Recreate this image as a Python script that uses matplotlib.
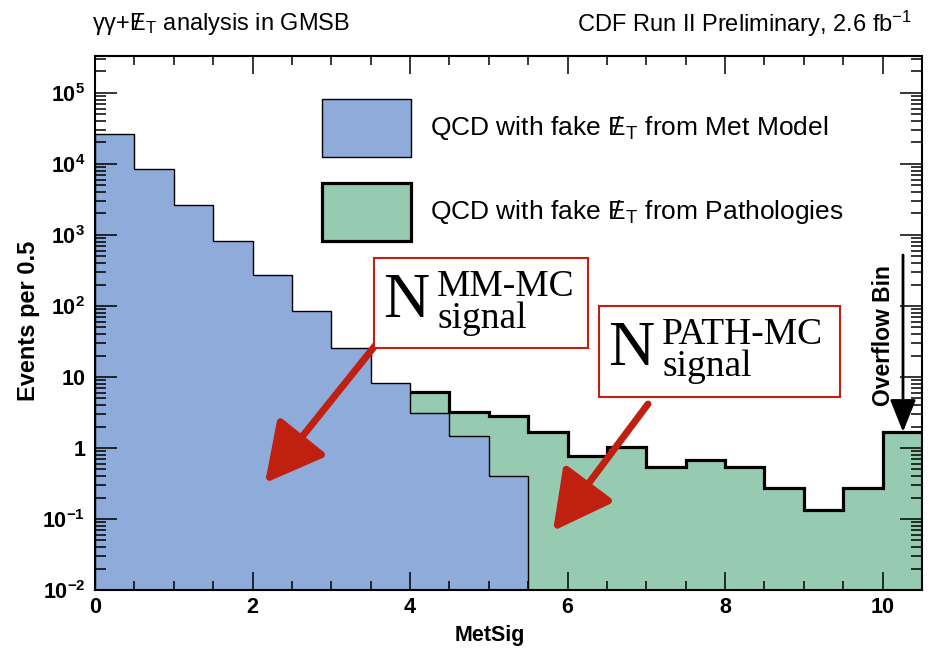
import matplotlib.pyplot as plt
from matplotlib.patches import Rectangle
from matplotlib.ticker import MultipleLocator, LogLocator, FixedLocator, FuncFormatter
import numpy as np

plt.rcParams['font.family'] = ['Liberation Sans', 'DejaVu Sans']
plt.rcParams['mathtext.default'] = 'regular'

# MetSig histogram, 0.5 wide bins, the last bin holds the overflow
edges = np.linspace(0, 10.5, 22)
met_model = [2.6e4, 8.6e3, 2.6e3, 820, 270, 86, 25.5, 8.1, 3.08, 1.45, 0.40]
pathologies = [0, 0, 0, 0, 0, 0, 0, 0, 2.97, 1.77, 2.42, 1.66, 0.77,
               1.03, 0.54, 0.67, 0.545, 0.274, 0.135, 0.274, 1.68]
y_ticks = [1e-2, 1e-1, 1, 10, 1e2, 1e3, 1e4, 1e5]

BLUE = '#8eabda'
GREEN = '#96cbb2'
RED = '#c0200f'
YMIN, YMAX = 1e-2, 3.3e5
W, H = 930, 652


def fig_xy(x, y):
    # pixel position (from top-left) -> figure fraction
    return x / W, 1 - y / H


fig = plt.figure(figsize=(W / 100, H / 100), dpi=100)
ax = fig.add_axes([95 / W, 1 - 590 / H, (922 - 95) / W, (590 - 56) / H])

mm = np.zeros(len(pathologies))
mm[:len(met_model)] = met_model
stack = mm + np.array(pathologies)
first = next(i for i, v in enumerate(pathologies) if v > 0)

# stacked: pathologies on top of the met model
ax.stairs(stack[first:], edges[first:], fill=True, color=GREEN, baseline=YMIN)
ax.stairs(met_model, edges[:len(met_model) + 1], fill=True, color=BLUE, baseline=YMIN)
ax.stairs(met_model, edges[:len(met_model) + 1], baseline=YMIN, color='k', lw=1.0)
ax.stairs(stack[first:], edges[first:], baseline=None, color='k', lw=2.3)

ax.set_yscale('log')
ax.set_xlim(edges[0], edges[-1])
ax.set_ylim(YMIN, YMAX)

ax.xaxis.set_major_locator(MultipleLocator(2))
ax.xaxis.set_minor_locator(MultipleLocator(0.5))
ax.yaxis.set_major_locator(FixedLocator(y_ticks))
ax.yaxis.set_minor_locator(LogLocator(base=10, subs=np.arange(2, 10), numticks=20))


def log_label(v, pos):
    e = int(round(np.log10(v)))
    if e == 0:
        return '1'
    if e == 1:
        return '10'
    return r'$10^{%d}$' % e


ax.yaxis.set_major_formatter(FuncFormatter(log_label))
ax.yaxis.set_minor_formatter(FuncFormatter(lambda v, pos: ''))
ax.tick_params(which='both', direction='in', top=True, right=True, width=1.1)
ax.tick_params(axis='y', which='major', length=16, pad=7)
ax.tick_params(axis='y', which='minor', length=8)
ax.tick_params(axis='x', which='major', length=13, pad=5)
ax.tick_params(axis='x', which='minor', length=6.5)
for lbl in ax.get_xticklabels() + ax.get_yticklabels():
    lbl.set_fontsize(15.5)
    lbl.set_fontweight('bold')
for s in ax.spines.values():
    s.set_linewidth(1.5)

fig.text(*fig_xy(28, 321), 'Events per 0.5', rotation=90, ha='center', va='center',
         fontsize=17, fontweight='bold')
fig.text(*fig_xy(490, 635), 'MetSig', ha='center', va='center',
         fontsize=15.5, fontweight='bold')

met_sym = r'$E\!\!\!/\:{}_{T}$'
fig.text(*fig_xy(92, 24), u'\u03b3\u03b3+' + met_sym + ' analysis in GMSB',
         ha='left', va='center', fontsize=17)
fig.text(*fig_xy(912, 24), r'CDF Run II Preliminary, 2.6 fb$^{-1}$',
         ha='right', va='center', fontsize=17)

# legend
for (x0, y0, x1, y1), col, lw, txt in [
        ((322, 99, 411, 157), BLUE, 1.0, 'QCD with fake ' + met_sym + ' from Met Model'),
        ((322, 183, 411, 241), GREEN, 2.3, 'QCD with fake ' + met_sym + ' from Pathologies')]:
    fx, fy = fig_xy(x0, y1)
    fig.add_artist(Rectangle((fx, fy), (x1 - x0) / W, (y1 - y0) / H, transform=fig.transFigure,
                             facecolor=col, edgecolor='k', lw=lw))
    fig.text(*fig_xy(430, (y0 + y1) / 2), txt, ha='left', va='center', fontsize=19)

# red arrows to the signal regions
for start, tip in [((378, 342), (265, 483)), ((648, 404), (553, 531))]:
    ax.annotate('', xy=fig_xy(*tip), xytext=fig_xy(*start), xycoords='figure fraction',
                textcoords='figure fraction',
                arrowprops=dict(arrowstyle='-|>,head_length=1.8,head_width=0.95',
                                mutation_scale=20, lw=5, color=RED, shrinkA=0, shrinkB=0))

# label boxes
serif = ['Liberation Serif', 'DejaVu Serif']
for (x0, y0, x1, y1), sup in [((374, 258, 588, 348), 'MM-MC'),
                              ((599, 306, 840, 397), 'PATH-MC')]:
    fx, fy = fig_xy(x0, y1)
    fig.add_artist(Rectangle((fx, fy), (x1 - x0) / W, (y1 - y0) / H, transform=fig.transFigure,
                             facecolor='white', edgecolor=RED, lw=1.5))
    fig.text(*fig_xy(x0 + 9, y0 + 59), 'N', family=serif, fontsize=46,
             ha='left', va='baseline')
    fig.text(*fig_xy(x0 + 63, y0 + 38), sup, family=serif, fontsize=27,
             ha='left', va='baseline')
    fig.text(*fig_xy(x0 + 63, y0 + 70), 'signal', family=serif, fontsize=27,
             ha='left', va='baseline')

# overflow marker
ax.annotate('', xy=fig_xy(903, 432), xytext=fig_xy(903, 255), xycoords='figure fraction',
            textcoords='figure fraction',
            arrowprops=dict(arrowstyle='-|>,head_length=1.0,head_width=0.4',
                            mutation_scale=20, lw=2.0, color='k', shrinkA=0, shrinkB=0))
fig.text(*fig_xy(883, 336), 'Overflow Bin', rotation=90, ha='center', va='center',
         fontsize=16.5, fontweight='bold')

fig.savefig('out.png', dpi=100)
